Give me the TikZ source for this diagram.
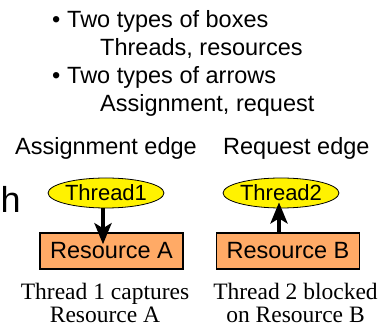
\documentclass[tikz,border=0pt]{standalone}
\usepackage{fontspec}
\setmainfont{Liberation Serif}
\setsansfont{Liberation Sans}
\usetikzlibrary{arrows.meta,shapes.geometric,calc}
\definecolor{peach}{RGB}{255,170,102}
\tikzset{
  sans/.style={font=\sffamily\fontsize{23.5}{28}\selectfont, inner sep=0pt},
  captxt/.style={font=\rmfamily\fontsize{23.5}{23}\selectfont, inner sep=0pt, anchor=base},
  thr/.style={ellipse, draw=black, line width=0.8pt, fill=yellow, minimum width=112pt, minimum height=30pt, inner sep=0pt, font=\sffamily\fontsize{22}{22}\selectfont},
  res/.style={rectangle, draw=black, line width=1.5pt, fill=peach, minimum width=143pt, minimum height=36pt, inner sep=0pt, font=\sffamily\fontsize{23.5}{23.5}\selectfont},
  arr/.style={line width=4pt, -{Stealth[length=21pt,width=17pt,inset=5pt]}}
}
\begin{document}
\begin{tikzpicture}[x=1pt,y=-1pt]
\useasboundingbox (0,0) rectangle (383,328);
% bullet list
\node[sans, anchor=base west] (b1) at (52,28) {•};
\node[sans, anchor=base west] (l1) at (67,28) {Two types of boxes};
\node[sans, anchor=base west] (l2) at (100,56) {Threads, resources};
\node[sans, anchor=base west] (b2) at (52,84) {•};
\node[sans, anchor=base west] (l3) at (67,84) {Two types of arrows};
\node[sans, anchor=base west] (l4) at (100,112) {Assignment, request};
% headings
\node[sans, anchor=base west] (h1) at (15,155) {Assignment edge};
\node[sans, anchor=base west] (h2) at (223,155) {Request edge};
\node[font=\sffamily\fontsize{36}{36}\selectfont, inner sep=0pt, anchor=base west] (hh) at (0.5,213) {h};
% nodes
\node[thr] (t1) at (106,193) {Thread1};
\node[thr, minimum width=110pt] (t2) at (281,193) {Thread2};
\node[res] (ra) at (111.5,251) {Resource A};
\node[res] (rb) at (288,251) {Resource B};
% edges
\draw[arr, shorten >=-12pt] ($(t1.south)+(-3,0)$) -- ($(ra.north)+(-8.5,0)$);
\draw[arr, shorten >=-6pt] ($(rb.north)+(-9,0)$) -- ($(t2.south)+(-2,0)$);
% captions
\node[captxt] (c1a) at (105,300) {Thread 1 captures};
\node[captxt] (c1b) at (105,323) {Resource A};
\node[captxt] (c2a) at (295.5,300) {Thread 2 blocked};
\node[captxt] (c2b) at (295.5,323) {on Resource B};
\end{tikzpicture}
\end{document}
